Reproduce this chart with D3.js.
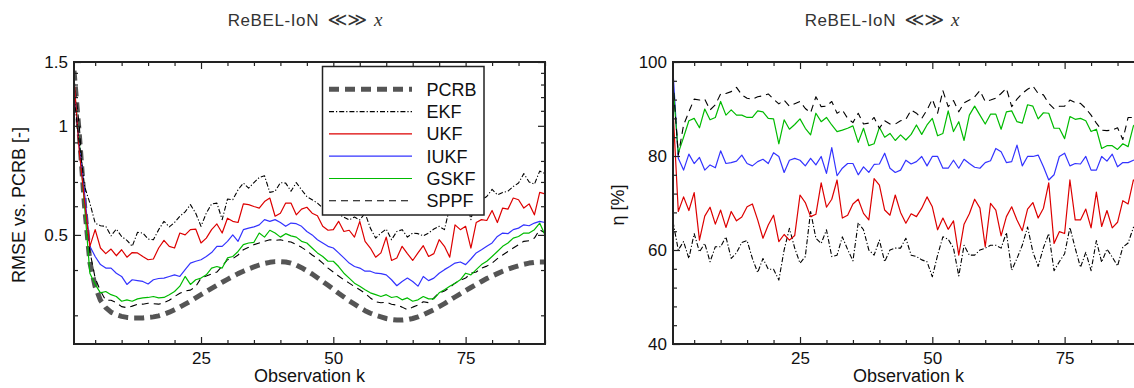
<!DOCTYPE html>
<html><head><meta charset="utf-8">
<script src="https://cdn.jsdelivr.net/npm/d3@7"></script>
<style>body{margin:0;background:#fff}svg{display:block}text{font-family:"Liberation Sans",Arial,sans-serif}</style>
</head><body>
<svg id="c" width="1134" height="388"></svg>
<script>
// ---------- DATA ----------
const obs = d3.range(1, 91); // observation index k = 1..90
const seriesNames = ["PCRB", "EKF", "UKF", "IUKF", "GSKF", "SPPF"];

// Left panel: RMSE vs. PCRB [-]
const leftPCRB = [1.42,0.95,0.6,0.42,0.36,0.33,0.315,0.306,0.301,0.298,0.296,0.295,0.295,0.295,0.296,0.297,0.299,0.302,0.306,0.311,0.316,0.322,0.328,0.335,0.342,0.349,0.356,0.363,0.37,0.377,0.384,0.391,0.397,0.403,0.408,0.413,0.417,0.42,0.422,0.422,0.421,0.418,0.413,0.406,0.398,0.39,0.381,0.372,0.363,0.354,0.345,0.337,0.329,0.322,0.315,0.309,0.304,0.3,0.297,0.294,0.292,0.291,0.291,0.292,0.294,0.297,0.301,0.306,0.311,0.317,0.323,0.33,0.337,0.344,0.351,0.358,0.365,0.372,0.379,0.385,0.391,0.397,0.402,0.407,0.411,0.415,0.418,0.42,0.421,0.421];
const leftEKF = [1.2,0.9,0.68,0.612,0.539,0.53,0.528,0.497,0.519,0.495,0.483,0.465,0.508,0.506,0.487,0.485,0.517,0.545,0.526,0.541,0.563,0.579,0.606,0.574,0.528,0.574,0.609,0.612,0.551,0.628,0.625,0.666,0.695,0.673,0.697,0.72,0.728,0.655,0.66,0.697,0.695,0.66,0.697,0.666,0.638,0.625,0.612,0.593,0.585,0.58,0.57,0.56,0.55,0.56,0.55,0.574,0.522,0.49,0.506,0.519,0.485,0.511,0.517,0.493,0.506,0.504,0.497,0.506,0.519,0.528,0.517,0.596,0.574,0.625,0.638,0.551,0.638,0.625,0.638,0.668,0.645,0.655,0.66,0.68,0.695,0.738,0.7,0.69,0.75,0.738];
const leftUKF = [1.35,0.85,0.62,0.465,0.517,0.46,0.444,0.457,0.438,0.455,0.434,0.447,0.446,0.436,0.427,0.429,0.46,0.483,0.465,0.46,0.506,0.5,0.517,0.519,0.475,0.49,0.517,0.536,0.506,0.556,0.545,0.541,0.609,0.606,0.599,0.593,0.618,0.632,0.563,0.574,0.612,0.612,0.568,0.589,0.596,0.574,0.565,0.528,0.515,0.517,0.545,0.511,0.515,0.493,0.545,0.48,0.46,0.434,0.446,0.493,0.425,0.432,0.465,0.444,0.425,0.446,0.467,0.436,0.444,0.485,0.465,0.434,0.533,0.517,0.528,0.46,0.541,0.551,0.548,0.584,0.541,0.593,0.589,0.632,0.625,0.593,0.609,0.568,0.655,0.649];
const leftIUKF = [1.3,0.88,0.65,0.465,0.436,0.414,0.405,0.405,0.392,0.384,0.365,0.376,0.374,0.372,0.366,0.376,0.379,0.38,0.384,0.388,0.384,0.401,0.418,0.423,0.427,0.436,0.447,0.465,0.465,0.48,0.5,0.48,0.517,0.522,0.526,0.533,0.551,0.545,0.551,0.541,0.528,0.539,0.537,0.528,0.511,0.5,0.485,0.475,0.465,0.46,0.446,0.432,0.418,0.409,0.405,0.397,0.397,0.392,0.391,0.388,0.376,0.362,0.372,0.38,0.372,0.361,0.384,0.374,0.38,0.392,0.401,0.409,0.418,0.421,0.414,0.429,0.446,0.455,0.465,0.475,0.495,0.506,0.504,0.517,0.522,0.533,0.53,0.539,0.545,0.541];
const leftGSKF = [1.3,0.9,0.6,0.392,0.365,0.346,0.349,0.342,0.338,0.328,0.331,0.328,0.333,0.335,0.336,0.338,0.335,0.336,0.342,0.349,0.361,0.384,0.365,0.376,0.38,0.388,0.405,0.409,0.405,0.432,0.436,0.45,0.47,0.475,0.477,0.506,0.493,0.515,0.506,0.493,0.504,0.497,0.493,0.48,0.475,0.46,0.446,0.436,0.423,0.423,0.409,0.392,0.38,0.368,0.361,0.353,0.346,0.342,0.338,0.342,0.336,0.338,0.331,0.335,0.328,0.331,0.338,0.333,0.333,0.346,0.353,0.361,0.368,0.376,0.392,0.388,0.401,0.414,0.423,0.436,0.45,0.465,0.475,0.49,0.495,0.506,0.506,0.517,0.539,0.5];
const leftSPPF = [1.35,1.0,0.62,0.45,0.38,0.35,0.33,0.33,0.325,0.317,0.315,0.318,0.322,0.322,0.324,0.323,0.322,0.325,0.33,0.338,0.345,0.35,0.352,0.36,0.38,0.385,0.39,0.395,0.41,0.427,0.43,0.44,0.455,0.462,0.47,0.475,0.48,0.485,0.483,0.485,0.48,0.478,0.47,0.462,0.452,0.44,0.43,0.418,0.405,0.395,0.385,0.376,0.368,0.36,0.353,0.345,0.335,0.327,0.325,0.326,0.322,0.32,0.316,0.311,0.316,0.32,0.327,0.325,0.335,0.346,0.35,0.358,0.368,0.375,0.38,0.392,0.395,0.405,0.41,0.418,0.43,0.44,0.45,0.46,0.47,0.48,0.482,0.49,0.517,0.506];

// Right panel: eta [%]
const rightEKF = [66,60,61.8,58.2,63.5,59.6,61.4,57.5,60.7,60.7,62.8,58.2,59.4,61.6,62,58.2,55.2,58.2,55.9,55.9,53.6,60,64.6,60.4,57.2,58.6,68.2,62.5,61.4,64.3,58.6,58.9,62.8,60.1,57.7,65.8,64.3,60,58.9,62.1,57.5,60,60.4,60.4,62.5,58.9,58.6,57.9,57.5,54.3,58.9,62.8,62.3,60.4,54.5,61,58.9,58.9,60,60.4,61,61,60.4,63.7,55.7,58.2,61,64.9,59.6,56.5,60.5,63.5,55.6,57.5,59.2,64.8,60.4,56.3,59.5,55.6,62,57.4,60.2,58.5,56.6,60.6,61.5,64.8,65.5,66];
const rightUKF = [90,68.2,71.3,68.4,72.2,62.1,67.2,69.1,65.5,68.5,64.8,68.2,66.2,67,69.2,69.8,66.4,62.5,65.3,67.4,61.8,63.3,62.1,63.1,71.7,70.1,67.1,67.6,74.3,69.1,70.8,74.9,66.8,67.4,69.8,70.8,67.8,66.4,75.2,73.8,68.5,67.4,71.7,68,65.7,67.7,67.1,68.9,71.3,69.2,64.3,66.8,64.4,66.2,58.9,65.5,67.7,70.8,68.9,60.7,69.9,68.5,63,67.1,69.2,66.4,64.1,68.7,70.1,66.8,68.9,74.3,61.4,63.9,63.5,74.9,66.4,66.4,68.7,64.7,72.3,65,68.4,64.7,65.9,70.5,69.8,74.9,74,73];
const rightIUKF = [98,79.5,77,80.4,78.4,79.7,77,78.1,77.5,81.1,78.4,78.6,78.9,80.2,78.4,77.9,78.8,79.3,78.4,80.7,79.9,76.5,79.1,79.5,79.1,77.9,79.5,78.1,79.9,76.3,81.8,75.8,77.4,78.4,78.4,76,77.7,76.5,78.2,78.3,80.6,77.4,76.5,77,79.1,78.3,78.8,79.9,77.9,79.9,79.9,77.4,77.4,79.1,77.4,79.3,78.4,77.6,77.4,78.6,79,81.6,80.9,78.6,78.8,82.3,77.9,79.9,79.9,80.2,77.7,74.9,76,79.9,80.6,77.9,78.4,78.3,79.9,77,77,79.9,78.9,80.4,77.7,78.6,78.6,79.1,79.3,79.5];
const rightGSKF = [95,80.6,84,87.5,88,86,90,87.7,88.2,91.6,88.7,89.8,88.7,88.7,88.2,88.2,89.6,89.4,88,87.9,82.6,87.7,85.7,86.7,87.9,85.9,84.5,89.1,87.3,88.2,86.6,85.2,85.5,85.9,86.4,82.9,85.9,82.2,82.6,86.1,84,84.8,83.3,84.5,83.4,84.6,86.6,84.6,86.6,88,84.3,84.8,89.6,85.2,87.3,83.3,88.7,90.6,88.7,86.8,88.9,88.9,85.7,89.4,89.6,87.3,87,90.9,90.6,87.9,89.2,89.1,85.9,85.9,83.7,88.4,87.8,88,87.5,85.2,85.7,81.6,82.2,82.2,81.4,82.6,82,86.4,87.5,88];
const rightSPPF = [96,80.2,86.6,89.4,92.1,91.9,92.1,89.8,90.9,93.2,93.3,93.7,94.6,93,92.3,92.1,92.6,92.8,93.2,92.1,91.1,91.9,90.6,91.1,91.6,90.1,89.2,92.6,90.5,90.6,91.6,89.1,89.8,88,87.1,89.1,86.8,87,88.2,85.9,87.5,86.8,86.8,87.5,87.8,89.8,89.1,88,89.8,92.1,89.1,93.9,90.5,91.8,89.4,91.3,91.9,92.6,93.9,91.6,91.9,92.3,93.3,94.4,90.5,92.1,93.3,94.2,94.9,93.3,93,91.2,90.1,90.6,90.6,91.9,91.4,91.2,90.1,88.7,87,85.5,85.4,85.5,86,83.5,88.2,88.2,88.5,89];

// Tick values
const xMajor = [25, 50, 75];
const xMinor = [5, 10, 15, 20, 30, 35, 40, 45, 55, 60, 65, 70, 80, 85, 90];
const leftYMajor = [0.5, 1, 1.5];
const leftYMinor = [0.3, 0.4, 0.6, 0.7, 0.8, 0.9, 1.1, 1.2, 1.3, 1.4];
const rightYMajor = [40, 60, 80, 100];
const rightYMinor = [44, 48, 52, 56, 64, 68, 72, 76, 84, 88, 92, 96];

// ---------- STYLES ----------
const styles = {
  PCRB: {stroke: "#555", width: 5, dash: "10,6"},
  EKF:  {stroke: "#000", width: 1.1, dash: "5,2,1.2,2"},
  UKF:  {stroke: "#dd0000", width: 1.2, dash: null},
  IUKF: {stroke: "#3333ff", width: 1.2, dash: null},
  GSKF: {stroke: "#00bb00", width: 1.2, dash: null},
  SPPF: {stroke: "#000", width: 1.1, dash: "7,5"}
};

const svg = d3.select("#c");
const W = 471, TOP = 62, BOT = 344;

function panel(p) {
  const g = svg.append("g");
  const x = d3.scaleLinear([1, 90], [p.x0, p.x0 + W]);
  const y = p.y;
  const cid = "clip" + p.id;
  svg.append("defs").append("clipPath").attr("id", cid)
    .append("rect").attr("x", p.x0).attr("y", TOP).attr("width", W).attr("height", BOT - TOP);
  const lines = g.append("g").attr("clip-path", `url(#${cid})`);
  p.series.forEach(s => {
    const st = styles[s.name];
    const line = d3.line().x((d, i) => x(obs[i])).y(d => y(d));
    lines.append("path").datum(s.values).attr("d", line)
      .attr("fill", "none").attr("stroke", st.stroke).attr("stroke-width", st.width)
      .attr("stroke-dasharray", st.dash).attr("stroke-linejoin", "round");
  });
  const mk = (axis, tr, values, size, fmt, pad) => {
    const a = g.append("g").attr("transform", tr)
      .call(axis.tickValues(values).tickSize(size).tickPadding(pad || 3).tickFormat(fmt));
    a.select(".domain").remove();
    a.selectAll("line").attr("stroke", "#222").attr("stroke-width", 1.2);
    a.selectAll("text").attr("font-size", 17).attr("fill", "#111")
      .attr("font-family", "Liberation Sans, Arial, sans-serif");
    return a;
  };
  mk(d3.axisBottom(x), `translate(0,${BOT})`, xMajor, -7, d3.format("d"), 8);
  mk(d3.axisBottom(x), `translate(0,${BOT})`, xMinor, -4, () => "");
  mk(d3.axisTop(x), `translate(0,${TOP})`, xMajor, -7, () => "");
  mk(d3.axisTop(x), `translate(0,${TOP})`, xMinor, -4, () => "");
  mk(d3.axisLeft(y), `translate(${p.x0},0)`, p.yMajor, -7, p.yFmt, 6);
  mk(d3.axisLeft(y), `translate(${p.x0},0)`, p.yMinor, -4, () => "");
  mk(d3.axisRight(y), `translate(${p.x0 + W},0)`, p.yMajor, -7, () => "");
  mk(d3.axisRight(y), `translate(${p.x0 + W},0)`, p.yMinor, -4, () => "");
  g.append("rect").attr("x", p.x0).attr("y", TOP).attr("width", W).attr("height", BOT - TOP)
    .attr("fill", "none").attr("stroke", "#222").attr("stroke-width", 2);
  g.append("text").attr("x", p.x0 + W / 2).attr("y", 382).attr("text-anchor", "middle")
    .attr("font-size", 18).attr("fill", "#111").text("Observation k");
  g.append("text").attr("transform", `translate(${p.ylx},${(TOP + BOT) / 2 + 2}) rotate(-90)`)
    .attr("text-anchor", "middle").attr("dy", "0.35em").attr("font-size", 18).attr("fill", "#111").text(p.ylabel);
  // title
  const t = g.append("text").attr("x", p.tx).attr("y", 26).attr("text-anchor", "middle")
    .attr("font-size", 17).attr("fill", "#333");
  t.append("tspan").attr("letter-spacing", 0.6).text("ReBEL-IoN ");
  t.append("tspan").attr("font-family", "DejaVu Sans").attr("font-size", 19).attr("dx", 3).text("≪≫");
  t.append("tspan").text(" ");
  t.append("tspan").attr("font-family", "Liberation Serif, serif").attr("font-style", "italic").attr("font-size", 19).attr("dx", 2).text("x");
  return {g, x, y};
}

panel({
  id: "L", x0: 74, tx: 305, ylx: 19, ylabel: "RMSE vs. PCRB [-]",
  y: d3.scaleLog([0.25, 1.5], [BOT, TOP]),
  yMajor: leftYMajor, yMinor: leftYMinor, yFmt: d => String(d),
  series: [
    {name: "PCRB", values: leftPCRB}, {name: "SPPF", values: leftSPPF}, {name: "GSKF", values: leftGSKF},
    {name: "IUKF", values: leftIUKF}, {name: "UKF", values: leftUKF}, {name: "EKF", values: leftEKF}
  ]
});

panel({
  id: "R", x0: 673, tx: 882, ylx: 618, ylabel: "η [%]",
  y: d3.scaleLinear([40, 100], [BOT, TOP]),
  yMajor: rightYMajor, yMinor: rightYMinor, yFmt: d3.format("d"),
  series: [
    {name: "EKF", values: rightEKF}, {name: "UKF", values: rightUKF}, {name: "IUKF", values: rightIUKF},
    {name: "GSKF", values: rightGSKF}, {name: "SPPF", values: rightSPPF}
  ]
});

// legend (left panel)
const lg = svg.append("g");
lg.append("rect").attr("x", 322.5).attr("y", 66.5).attr("width", 161.5).attr("height", 148.5)
  .attr("fill", "#fff").attr("stroke", "#222").attr("stroke-width", 1.5);
seriesNames.forEach((n, i) => {
  const yy = 89.3 + i * 22.3, st = styles[n];
  lg.append("line").attr("x1", 329).attr("x2", 412).attr("y1", yy).attr("y2", yy)
    .attr("stroke", st.stroke).attr("stroke-width", st.width).attr("stroke-dasharray", st.dash);
  lg.append("text").attr("x", 426.5).attr("y", yy).attr("dy", "0.36em")
    .attr("font-size", 18).attr("fill", "#111").text(n);
});
</script>
</body></html>
